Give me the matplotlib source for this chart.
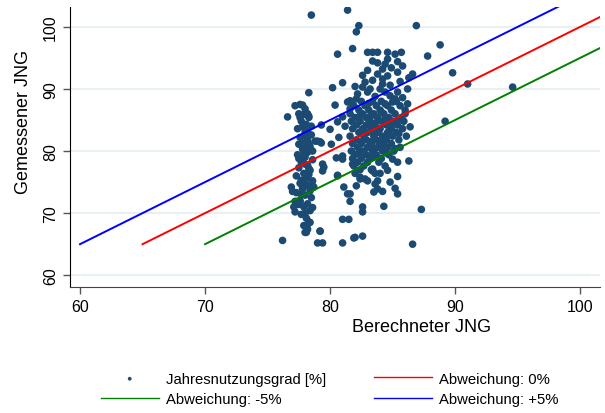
import matplotlib
matplotlib.use("Agg")
import matplotlib.pyplot as plt

plt.rcParams['font.family'] = ['Liberation Sans', 'DejaVu Sans']

punkte_aussen = [
    (78.5, 101.9), (81.4, 102.7), (82.3, 100.2), (82.1, 99.2), (86.9, 100.2),
    (88.8, 97.1), (87.8, 95.3), (80.6, 95.6), (81.8, 96.5), (89.8, 92.6),
    (91.0, 90.8), (94.6, 90.3), (89.2, 84.8), (87.3, 70.6), (86.6, 65.0),
    (84.3, 71.1), (76.2, 65.6), (79.0, 65.2), (79.4, 65.2), (81.0, 65.2),
    (81.9, 66.0), (82.6, 66.3), (79.2, 67.1), (78.0, 66.9), (81.0, 69.0),
    (81.5, 69.0), (82.6, 71.0), (82.6, 70.2), (76.6, 85.5), (77.2, 87.3),
    (77.8, 87.4), (78.3, 89.4), (78.2, 86.0), (78.3, 85.6), (79.3, 84.2),
    (80.2, 90.2), (81.0, 91.0), (80.4, 87.4), (80.6, 84.7), (80.0, 83.5),
    (79.0, 81.6), (79.3, 81.3), (80.1, 81.1), (80.7, 82.2), (80.5, 78.9),
    (79.4, 77.9), (79.4, 76.8), (80.6, 76.1), (76.9, 74.2), (77.0, 73.5),
    (81.1, 74.2), (81.4, 73.1), (81.6, 73.1), (81.6, 71.9), (82.1, 74.4),
    (82.4, 75.5), (83.0, 75.2), (83.4, 76.8), (83.8, 75.2), (83.8, 73.9),
    (83.5, 73.4), (84.2, 73.5), (84.8, 75.0), (85.2, 74.0), (85.4, 73.1),
    (86.3, 78.4), (85.4, 78.2), (85.0, 78.7), (86.4, 83.9), (86.0, 86.0),
    (86.2, 90.0), (86.3, 91.8), (86.6, 92.4), (85.8, 93.7), (85.4, 94.4),
    (85.4, 92.7), (85.2, 95.6), (84.6, 94.8), (84.4, 94.0), (84.2, 93.2),
    (83.8, 94.2), (83.4, 94.5), (83.8, 92.4), (84.2, 91.6), (84.6, 92.1),
    (83.0, 95.9), (83.4, 95.9), (83.8, 95.9), (84.6, 95.9), (85.7, 95.9),
    (82.8, 91.1), (82.6, 90.3), (83.0, 89.5), (83.2, 90.0), (82.2, 89.2),
    (82.1, 88.4), (81.6, 88.1), (84.2, 90.8), (84.0, 90.0), (84.4, 89.5),
    (84.8, 88.9), (85.2, 88.4), (85.0, 87.9), (85.4, 89.5), (81.4, 87.9),
    (81.6, 86.8), (81.8, 87.3), (81.0, 85.5), (81.2, 84.0), (78.8, 81.6),
    (79.2, 81.5), (79.5, 77.4), (78.6, 74.4), (78.7, 74.2), (77.2, 70.2),
    (77.1, 71.0), (77.2, 71.9), (77.6, 71.8), (78.1, 66.9), (78.4, 68.5),
    (78.2, 68.2), (79.2, 67.1), (80.6, 76.0), (81.0, 78.7), (81.0, 79.2),
    (81.8, 77.9), (82.4, 75.8), (82.8, 75.5), (83.4, 77.1), (83.6, 74.7),
    (84.0, 76.4), (84.6, 76.9), (85.4, 75.9), (82.0, 66.1),
]

punkte_links = [
    (77.6, 87.5), (78.0, 86.8), (77.5, 86.0), (78.3, 85.4), (77.7, 84.8),
    (78.1, 84.3), (77.4, 83.6), (78.0, 83.0), (78.5, 82.6), (77.6, 82.2),
    (78.2, 81.7), (77.5, 81.1), (78.4, 80.7), (77.8, 80.3), (78.2, 79.8),
    (77.4, 79.4), (78.0, 79.0), (78.6, 78.6), (77.7, 78.2), (78.2, 77.7),
    (77.5, 77.3), (78.4, 76.9), (77.9, 76.4), (77.3, 76.0), (78.1, 75.6),
    (78.6, 75.2), (77.6, 74.8), (78.2, 74.4), (77.8, 73.9), (77.3, 73.3),
    (78.0, 72.9), (78.5, 72.5), (77.6, 72.0), (78.2, 71.5), (77.9, 71.0),
    (78.4, 70.4), (77.7, 69.8), (78.1, 69.2), (78.3, 68.6), (77.9, 68.0),
    (78.2, 67.4), (77.9, 85.9), (78.5, 84.0), (77.9, 81.3), (78.6, 80.0),
    (77.5, 78.8), (78.3, 77.2), (77.7, 75.3), (78.4, 73.6), (77.5, 71.4),
    (78.6, 70.9), (78.0, 77.9), (78.0, 80.8), (78.1, 82.3), (77.8, 74.1),
    (78.0, 70.0), (77.8, 83.9), (78.2, 83.2), (77.9, 79.5), (78.3, 76.2),
    (77.7, 73.0), (78.0, 74.9), (78.3, 81.1), (77.6, 85.4),
]

punkte_kern = [
    (82.5, 88.0), (83.4, 88.0), (84.1, 88.0), (85.3, 88.0),
    (81.9, 87.3), (82.8, 87.3), (83.7, 87.3), (84.6, 87.3), (85.6, 87.3),
    (82.3, 86.6), (83.1, 86.6), (84.0, 86.6), (84.9, 86.6), (86.0, 86.6),
    (81.6, 86.0), (82.6, 86.0), (83.5, 86.0), (84.3, 86.0), (85.2, 86.0),
    (82.0, 85.4), (82.9, 85.4), (83.8, 85.4), (84.7, 85.4), (85.7, 85.4),
    (81.7, 84.8), (82.4, 84.8), (83.2, 84.8), (84.1, 84.8), (85.0, 84.8), (85.9, 84.8),
    (82.1, 84.2), (82.9, 84.2), (83.6, 84.2), (84.5, 84.2), (85.4, 84.2),
    (81.8, 83.6), (82.6, 83.6), (83.3, 83.6), (84.0, 83.6), (84.9, 83.6), (85.8, 83.6),
    (82.3, 83.0), (83.0, 83.0), (83.8, 83.0), (84.6, 83.0), (85.3, 83.0),
    (81.6, 82.4), (82.7, 82.4), (83.5, 82.4), (84.2, 82.4), (85.0, 82.4), (86.1, 82.4),
    (82.1, 81.8), (82.9, 81.8), (83.7, 81.8), (84.5, 81.8), (85.5, 81.8),
    (81.8, 81.2), (82.5, 81.2), (83.3, 81.2), (84.1, 81.2), (84.9, 81.2),
    (82.2, 80.6), (83.0, 80.6), (83.8, 80.6), (84.6, 80.6), (85.6, 80.6),
    (81.7, 80.0), (82.6, 80.0), (83.4, 80.0), (84.2, 80.0), (85.1, 80.0),
    (82.0, 79.4), (82.9, 79.4), (83.7, 79.4), (84.7, 79.4),
    (81.8, 78.8), (82.5, 78.8), (83.2, 78.8), (84.1, 78.8),
    (82.2, 78.2), (83.0, 78.2), (83.9, 78.2),
    (81.9, 77.6), (82.7, 77.6), (84.4, 77.6),
    (82.4, 77.0), (83.3, 77.0), (82.0, 76.4), (83.6, 76.4),
    (83.0, 93.0), (82.6, 92.2), (83.4, 91.4), (84.8, 90.6), (85.6, 91.2),
    (82.0, 90.4), (83.6, 88.8), (85.8, 88.6), (86.2, 87.6), (84.9, 93.4),
    # Verdichtung im Kern
    (83.3, 85.7), (84.4, 85.1), (83.6, 84.5), (84.8, 83.9), (83.5, 82.8),
    (84.4, 82.1), (83.2, 81.5), (84.3, 80.9), (83.5, 80.3), (84.5, 79.7),
    (82.4, 85.7), (82.7, 83.3), (82.5, 81.5), (83.4, 79.1), (85.5, 82.8),
    (85.4, 85.0), (84.1, 86.3), (84.9, 84.3), (83.9, 83.3), (84.7, 82.7),
    (83.1, 87.7), (84.4, 87.6), (82.3, 79.7), (85.2, 80.4), (83.9, 81.5),
]

# Abweichungslinien: Startwert auf der x-Achse und Versatz in Prozentpunkten
abw_namen = ['Abweichung: 0%', 'Abweichung: -5%', 'Abweichung: +5%']
abw_start = [65, 70, 60]
abw_versatz = [0, -5, 5]
abw_farben = ['#ff0000', '#008000', '#0000ff']
x_ende = 110

alle = punkte_aussen + punkte_links + punkte_kern
bx = [p[0] for p in alle]
gy = [p[1] for p in alle]

fig = plt.figure(figsize=(6.05, 4.14), dpi=100)
ax = fig.add_axes([0.1157, 0.3043, 0.8763, 0.6764])

ax.set_xlim(59.2, 101.6)
ax.set_ylim(58.1, 103.2)
ax.set_yticks([60, 70, 80, 90, 100])
ax.set_xticks([60, 70, 80, 90, 100])
ax.grid(axis='y', color='#e8f0f2', lw=1.5)
ax.set_axisbelow(True)

h_sc = ax.scatter(bx, gy, s=30, color='#1b4a72', edgecolors='none',
                  zorder=2, label='Jahresnutzungsgrad [%]')
handles = {}
for name, x0, d, c in zip(abw_namen, abw_start, abw_versatz, abw_farben):
    (h,) = ax.plot([x0, x_ende], [x0 + d, x_ende + d], color=c, lw=1.4,
                   zorder=3, label=name)
    handles[name] = h

for s in ['top', 'right']:
    ax.spines[s].set_visible(False)
ax.spines['left'].set_color('black')
ax.spines['bottom'].set_color('#444444')
ax.tick_params(axis='both', direction='out', length=5, width=1,
               color='#555555', labelsize=11.5)
for lab in ax.get_yticklabels():
    lab.set_rotation(90)
    lab.set_va('center')

ax.set_xlabel('Berechneter JNG', fontsize=13)
ax.xaxis.set_label_coords(0.664, -0.112)
ax.set_ylabel('Gemessener JNG', fontsize=13)
ax.yaxis.set_label_coords(-0.072, 0.593)

leg = fig.legend([h_sc, handles['Abweichung: -5%'], handles['Abweichung: 0%'],
                  handles['Abweichung: +5%']],
                 ['Jahresnutzungsgrad [%]', 'Abweichung: -5%', 'Abweichung: 0%',
                  'Abweichung: +5%'],
                 ncol=2, loc='center', bbox_to_anchor=(0.545, 0.058),
                 frameon=False, fontsize=10.7, handlelength=3.9,
                 handletextpad=0.5, columnspacing=3.2, labelspacing=0.45,
                 markerscale=0.5)
for ln in leg.get_lines():
    ln.set_linewidth(1.0)

fig.savefig('out.png', dpi=100)
